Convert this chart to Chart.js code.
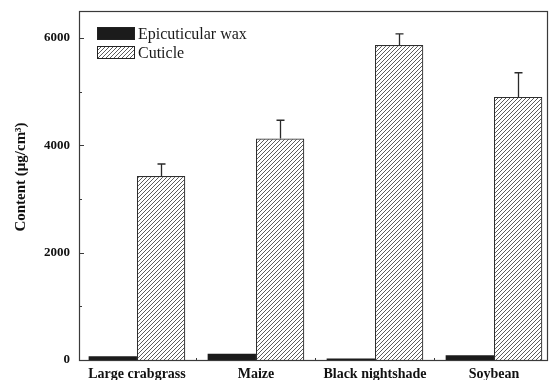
<!DOCTYPE html>
<html>
<head>
<meta charset="utf-8">
<script src="https://cdn.jsdelivr.net/npm/chart.js@4/dist/chart.umd.min.js"></script>
<style>
  html, body { margin: 0; padding: 0; background: #fff; }
  #wrap { width: 549px; height: 380px; }
</style>
</head>
<body>
<div id="wrap"><canvas id="c" width="549" height="380"></canvas></div>
<script>
// Plant species on the x axis
const categories = ['Large crabgrass', 'Maize', 'Black nightshade', 'Soybean'];
// Content (µg/cm³)
const waxValues = [70, 115, 30, 90];
const cuticleValues = [3425, 4125, 5865, 4900];
const cuticleErrors = [225, 340, 210, 450];
// y-axis labelled ticks and minor ticks
const yTicks = [0, 2000, 4000, 6000];
const yMinorTicks = [1000, 3000, 5000];
const seriesNames = ['Epicuticular wax', 'Cuticle'];
const yTitle = 'Content (μg/cm³)';

const FRAME = '#3a3a3a';
const SERIF = '"Liberation Serif", "Times New Roman", serif';

// diagonal hatch fill for the cuticle bars
function makeHatch() {
  const s = 4;
  const pc = document.createElement('canvas');
  pc.width = s; pc.height = s;
  const g = pc.getContext('2d');
  g.fillStyle = '#ffffff';
  g.fillRect(0, 0, s, s);
  g.strokeStyle = '#4a4a4a';
  g.lineWidth = 0.9;
  g.beginPath();
  g.moveTo(0, s); g.lineTo(s, 0);
  g.moveTo(-1, 1); g.lineTo(1, -1);
  g.moveTo(s - 1, s + 1); g.lineTo(s + 1, s - 1);
  g.stroke();
  return document.getElementById('c').getContext('2d').createPattern(pc, 'repeat');
}
const hatch = makeHatch();

const toPoints = vals => vals.map((v, i) => ({ x: i + 1, y: v }));

// frame, inward ticks, error bars, axis title and the in-plot legend
const decorations = {
  id: 'decorations',
  afterDatasetsDraw(chart) {
    const ctx = chart.ctx;
    const { left, right, top, bottom } = chart.chartArea;
    const xs = chart.scales.x, ys = chart.scales.y;
    ctx.save();

    // error bars on the cuticle series
    const meta = chart.getDatasetMeta(1);
    ctx.strokeStyle = '#2a2a2a';
    ctx.lineWidth = 1.3;
    meta.data.forEach((bar, i) => {
      const x = Math.round(bar.x) + 0.5;
      const y0 = bar.y;
      const y1 = ys.getPixelForValue(cuticleValues[i] + cuticleErrors[i]);
      ctx.beginPath();
      ctx.moveTo(x, y0); ctx.lineTo(x, y1);
      ctx.moveTo(x - 4, y1); ctx.lineTo(x + 4, y1);
      ctx.stroke();
    });

    // frame
    ctx.strokeStyle = FRAME;
    ctx.lineWidth = 1.2;
    ctx.strokeRect(left + 0.5, top + 0.5, right - left - 1, bottom - top);

    // inward ticks
    ctx.lineWidth = 1;
    ctx.beginPath();
    yTicks.forEach(v => {
      const y = Math.round(ys.getPixelForValue(v)) + 0.5;
      ctx.moveTo(left, y); ctx.lineTo(left + 5, y);
    });
    yMinorTicks.forEach(v => {
      const y = Math.round(ys.getPixelForValue(v)) + 0.5;
      ctx.moveTo(left, y); ctx.lineTo(left + 3, y);
    });
    for (let i = 1; i < categories.length; i++) {
      const x = Math.round(xs.getPixelForValue(i + 0.5)) + 0.5;
      ctx.moveTo(x, bottom); ctx.lineTo(x, bottom - 2);
    }
    ctx.stroke();

    // y-axis title
    ctx.save();
    ctx.translate(21, 177);
    ctx.rotate(-Math.PI / 2);
    ctx.fillStyle = '#111';
    ctx.font = 'bold 15px ' + SERIF;
    ctx.textAlign = 'center';
    ctx.textBaseline = 'middle';
    ctx.fillText(yTitle, 0, 0);
    ctx.restore();

    // legend
    const bx = 97, bw = 38, bh = 13;
    const rows = [27, 46];
    chart.data.datasets.forEach((ds, i) => {
      ctx.fillStyle = ds.backgroundColor;
      ctx.fillRect(bx, rows[i], bw, bh);
      ctx.strokeStyle = '#222';
      ctx.lineWidth = 1;
      ctx.strokeRect(bx + 0.5, rows[i] + 0.5, bw - 1, bh - 1);
      ctx.fillStyle = '#1a1a1a';
      ctx.font = '16px ' + SERIF;
      ctx.textBaseline = 'middle';
      ctx.textAlign = 'left';
      ctx.fillText(seriesNames[i], bx + bw + 3, rows[i] + bh / 2 + 1);
    });
    ctx.restore();
  }
};

new Chart(document.getElementById('c'), {
  type: 'bar',
  data: {
    datasets: [
      {
        label: seriesNames[0],
        data: toPoints(waxValues),
        backgroundColor: '#1b1b1b',
        borderColor: '#1b1b1b',
        borderWidth: 0
      },
      {
        label: seriesNames[1],
        data: toPoints(cuticleValues),
        backgroundColor: hatch,
        borderColor: '#2e2e2e',
        borderWidth: 1.2
      }
    ]
  },
  options: {
    responsive: false,
    animation: false,
    categoryPercentage: 0.812,
    barPercentage: 1.0,
    layout: { padding: { left: 0, top: 11, right: 1, bottom: 0 } },
    plugins: {
      legend: { display: false },
      tooltip: { enabled: false }
    },
    scales: {
      x: {
        type: 'linear',
        min: 0.513,
        max: 4.454,
        offset: false,
        grid: { display: false, drawTicks: false },
        border: { display: false },
        afterBuildTicks: s => { s.ticks = categories.map((_, i) => ({ value: i + 1 })); },
        afterFit: s => { s.height = 20; s.paddingLeft = 0; s.paddingRight = 0; },
        ticks: {
          autoSkip: false,
          maxRotation: 0,
          padding: 6,
          color: '#111',
          font: { family: SERIF, size: 14, weight: 'bold' },
          callback: v => categories[v - 1] || ''
        }
      },
      y: {
        min: 0,
        max: 6500,
        grid: { display: false, drawTicks: false },
        border: { display: false },
        afterBuildTicks: s => { s.ticks = yTicks.map(v => ({ value: v })); },
        afterFit: s => { s.width = 79; s.paddingTop = 0; s.paddingBottom = 0; },
        ticks: {
          padding: 9,
          color: '#111',
          font: { family: SERIF, size: 13, weight: 'bold' },
          callback: v => String(v)
        }
      }
    }
  },
  plugins: [decorations]
});
</script>
</body>
</html>
